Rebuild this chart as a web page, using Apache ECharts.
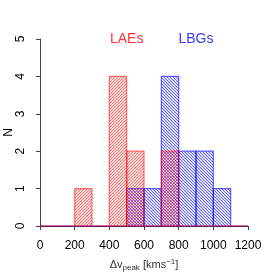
<!DOCTYPE html>
<html><head><meta charset="utf-8">
<script src="https://cdn.jsdelivr.net/npm/echarts@6/dist/echarts.min.js"></script>
<style>html,body{margin:0;padding:0;background:#fff}#c{width:273px;height:273px}</style>
</head><body><div id="c"></div>
<script>
var binStarts = [0,100,200,300,400,500,600,700,800,900,1000,1100];
var binWidth = 100;
var laeCounts = [0,0,1,0,4,2,0,2,0,0,0,0];
var lbgCounts = [0,0,0,0,0,1,1,4,2,2,1,0];
var xTicks = [0,200,400,600,800,1000,1200];
var yTicks = [0,1,2,3,4,5];
var labels = [{name:'LAEs', x:500, y:5, color:'#ff0000'},{name:'LBGs', x:900, y:5, color:'#0000ff'}];

function hatch(rgb, dir){
  var n = 3;
  var c = document.createElement('canvas');
  c.width = n; c.height = n;
  var g = c.getContext('2d');
  for (var i=0;i<n;i++){
    var j = dir>0 ? (n-1-i) : i;
    g.fillStyle = 'rgba(' + rgb + ',0.6)';
    g.fillRect(i, j, 1, 1);
    g.fillStyle = 'rgba(' + rgb + ',0.22)';
    g.fillRect(i, (j+1)%n, 1, 1);
  }
  return c;
}
var redPat = {image: hatch('255,0,0', 1), repeat:'repeat'};
var bluePat = {image: hatch('0,0,255', -1), repeat:'repeat'};

function histSeries(counts, pat, stroke, z){
  return {
    type:'custom', z:z,
    data: binStarts.map(function(b,i){return [b, b+binWidth, counts[i]];}),
    renderItem: function(params, api){
      var p0 = api.coord([api.value(0), 0]);
      var p1 = api.coord([api.value(1), api.value(2)]);
      if (api.value(2) === 0) {
        return {type:'line', shape:{x1:p0[0], y1:p0[1], x2:p1[0], y2:p0[1]},
          style:{stroke:stroke, lineWidth:1.2}};
      }
      return {type:'rect', shape:{x:p0[0], y:p1[1], width:p1[0]-p0[0], height:p0[1]-p1[1]},
        style:{fill:pat, stroke:stroke, lineWidth:1.2}};
    },
    encode:{x:[0,1], y:2}
  };
}

var chart = echarts.init(document.getElementById('c'), null, {renderer:'canvas'});
var axisCol = '#444';
chart.setOption({
  animation:false,
  grid:{left:40, right:25, top:39, bottom:47, containLabel:false, outerBoundsMode:'none'},
  xAxis:{type:'value', min:0, max:1200, interval:200, offset:10,
    axisLine:{show:true, lineStyle:{color:axisCol, width:1}},
    axisTick:{show:true, length:4, lineStyle:{color:axisCol}},
    splitLine:{show:false},
    axisLabel:{color:'#000', fontSize:12, fontFamily:'Liberation Sans', margin:4, hideOverlap:false,
      formatter:function(v){return xTicks.indexOf(v)>=0? String(v):'';}},
    name:'{a|Δv}{s|peak}{a| [kms}{p|−1}{a|]}', nameLocation:'middle', nameGap:22, nameMoveOverlap:false,
    nameTextStyle:{rich:{a:{fontSize:11,color:'#333',fontFamily:'Liberation Sans'},
      s:{fontSize:8,color:'#333',fontFamily:'Liberation Sans',padding:[5,0,0,0]},
      p:{fontSize:8,color:'#333',fontFamily:'Liberation Sans',padding:[0,0,6,0]}}}
  },
  yAxis:{type:'value', min:0, max:5, interval:1, offset:8,
    axisLine:{show:true, lineStyle:{color:axisCol, width:1}},
    axisTick:{show:true, length:4, lineStyle:{color:axisCol}},
    splitLine:{show:false},
    axisLabel:{color:'#000', fontSize:12, fontFamily:'Liberation Sans', rotate:90, margin:5,
      formatter:function(v){return yTicks.indexOf(v)>=0? String(v):'';}},
    name:'N', nameLocation:'middle', nameGap:17, nameRotate:90, nameMoveOverlap:false,
    nameTextStyle:{fontSize:12, color:'#000', fontFamily:'Liberation Sans'}
  },
  series:[
    histSeries(lbgCounts, bluePat, 'rgba(0,0,255,0.6)', 2),
    histSeries(laeCounts, redPat, 'rgba(255,0,0,0.55)', 3),
    {type:'scatter', symbolSize:0, z:5,
      data: labels.map(function(l){return {value:[l.x,l.y], name:l.name,
        label:{show:true, position:'inside', formatter:l.name, color:l.color, fontSize:14, fontFamily:'Liberation Sans'}};})}
  ]
});
</script></body></html>
